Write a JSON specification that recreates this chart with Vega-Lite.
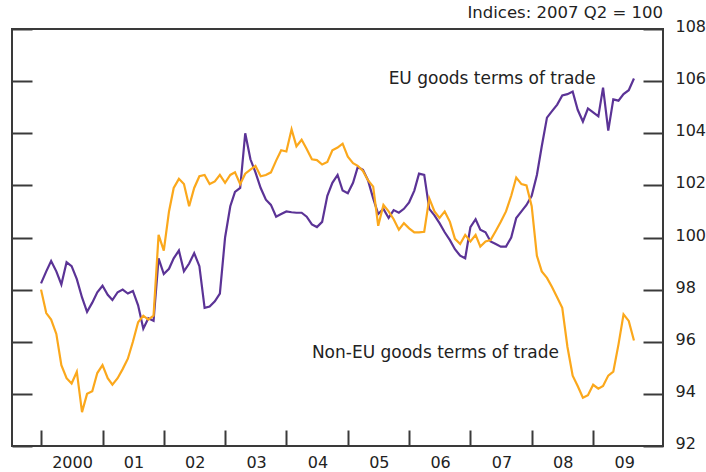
{
  "$schema": "https://vega.github.io/schema/vega-lite/v6.json",
  "autosize": {"type": "none"},
  "padding": {"left": 12, "top": 29, "right": 43, "bottom": 26},
  "width": 651,
  "height": 417,
  "background": "white",
  "config": {
    "view": {"stroke": "#3a3a3a", "strokeWidth": 2},
    "font": "DejaVu Sans",
    "axis": {"domain": false, "grid": false, "tickColor": "#3a3a3a", "tickWidth": 2, "labelColor": "#222222", "labelFont": "DejaVu Sans", "labelFontSize": 16, "title": null}
  },
  "title": {"text": "Indices: 2007 Q2 = 100", "anchor": "end", "frame": "group", "offset": -3, "fontSize": 16.5, "fontWeight": "normal", "font": "DejaVu Sans", "color": "#222222"},
  "datasets": {
    "series": [
      {"date": "2000-01-01", "EU": 98.24, "NonEU": 98.0},
      {"date": "2000-02-01", "EU": 98.7, "NonEU": 97.1},
      {"date": "2000-03-01", "EU": 99.1, "NonEU": 96.85},
      {"date": "2000-04-01", "EU": 98.7, "NonEU": 96.3},
      {"date": "2000-05-01", "EU": 98.2, "NonEU": 95.1},
      {"date": "2000-06-01", "EU": 99.05, "NonEU": 94.6},
      {"date": "2000-07-01", "EU": 98.9, "NonEU": 94.4},
      {"date": "2000-08-01", "EU": 98.4, "NonEU": 94.85},
      {"date": "2000-09-01", "EU": 97.7, "NonEU": 93.3},
      {"date": "2000-10-01", "EU": 97.15, "NonEU": 94.0},
      {"date": "2000-11-01", "EU": 97.5, "NonEU": 94.1},
      {"date": "2000-12-01", "EU": 97.9, "NonEU": 94.8},
      {"date": "2001-01-01", "EU": 98.15, "NonEU": 95.1},
      {"date": "2001-02-01", "EU": 97.8, "NonEU": 94.6},
      {"date": "2001-03-01", "EU": 97.6, "NonEU": 94.35},
      {"date": "2001-04-01", "EU": 97.9, "NonEU": 94.6},
      {"date": "2001-05-01", "EU": 98.0, "NonEU": 94.95},
      {"date": "2001-06-01", "EU": 97.85, "NonEU": 95.35},
      {"date": "2001-07-01", "EU": 97.95, "NonEU": 96.0},
      {"date": "2001-08-01", "EU": 97.4, "NonEU": 96.75},
      {"date": "2001-09-01", "EU": 96.5, "NonEU": 97.0},
      {"date": "2001-10-01", "EU": 96.9, "NonEU": 96.85},
      {"date": "2001-11-01", "EU": 96.8, "NonEU": 97.0},
      {"date": "2001-12-01", "EU": 99.2, "NonEU": 100.1},
      {"date": "2002-01-01", "EU": 98.6, "NonEU": 99.5},
      {"date": "2002-02-01", "EU": 98.8, "NonEU": 101.0},
      {"date": "2002-03-01", "EU": 99.2, "NonEU": 101.9},
      {"date": "2002-04-01", "EU": 99.5, "NonEU": 102.25},
      {"date": "2002-05-01", "EU": 98.7, "NonEU": 102.05},
      {"date": "2002-06-01", "EU": 99.0, "NonEU": 101.2},
      {"date": "2002-07-01", "EU": 99.4, "NonEU": 101.9},
      {"date": "2002-08-01", "EU": 98.9, "NonEU": 102.35},
      {"date": "2002-09-01", "EU": 97.3, "NonEU": 102.4},
      {"date": "2002-10-01", "EU": 97.35, "NonEU": 102.05},
      {"date": "2002-11-01", "EU": 97.55, "NonEU": 102.15},
      {"date": "2002-12-01", "EU": 97.85, "NonEU": 102.4},
      {"date": "2003-01-01", "EU": 100.0, "NonEU": 102.1},
      {"date": "2003-02-01", "EU": 101.2, "NonEU": 102.4},
      {"date": "2003-03-01", "EU": 101.75, "NonEU": 102.5},
      {"date": "2003-04-01", "EU": 101.9, "NonEU": 102.05},
      {"date": "2003-05-01", "EU": 104.0, "NonEU": 102.45},
      {"date": "2003-06-01", "EU": 103.0, "NonEU": 102.6},
      {"date": "2003-07-01", "EU": 102.5, "NonEU": 102.75},
      {"date": "2003-08-01", "EU": 101.9, "NonEU": 102.35},
      {"date": "2003-09-01", "EU": 101.45, "NonEU": 102.4},
      {"date": "2003-10-01", "EU": 101.25, "NonEU": 102.5},
      {"date": "2003-11-01", "EU": 100.8, "NonEU": 102.95},
      {"date": "2003-12-01", "EU": 100.9, "NonEU": 103.35},
      {"date": "2004-01-01", "EU": 101.0, "NonEU": 103.3},
      {"date": "2004-02-01", "EU": 100.97, "NonEU": 104.15},
      {"date": "2004-03-01", "EU": 100.95, "NonEU": 103.5},
      {"date": "2004-04-01", "EU": 100.95, "NonEU": 103.75},
      {"date": "2004-05-01", "EU": 100.8, "NonEU": 103.4},
      {"date": "2004-06-01", "EU": 100.5, "NonEU": 103.0},
      {"date": "2004-07-01", "EU": 100.4, "NonEU": 102.97},
      {"date": "2004-08-01", "EU": 100.6, "NonEU": 102.8},
      {"date": "2004-09-01", "EU": 101.6, "NonEU": 102.9},
      {"date": "2004-10-01", "EU": 102.1, "NonEU": 103.35},
      {"date": "2004-11-01", "EU": 102.4, "NonEU": 103.45},
      {"date": "2004-12-01", "EU": 101.8, "NonEU": 103.6},
      {"date": "2005-01-01", "EU": 101.7, "NonEU": 103.1},
      {"date": "2005-02-01", "EU": 102.1, "NonEU": 102.85},
      {"date": "2005-03-01", "EU": 102.7, "NonEU": 102.75},
      {"date": "2005-04-01", "EU": 102.6, "NonEU": 102.55},
      {"date": "2005-05-01", "EU": 102.2, "NonEU": 102.2},
      {"date": "2005-06-01", "EU": 101.5, "NonEU": 101.95},
      {"date": "2005-07-01", "EU": 100.9, "NonEU": 100.45},
      {"date": "2005-08-01", "EU": 101.1, "NonEU": 101.25},
      {"date": "2005-09-01", "EU": 100.75, "NonEU": 101.0},
      {"date": "2005-10-01", "EU": 101.05, "NonEU": 100.7},
      {"date": "2005-11-01", "EU": 100.95, "NonEU": 100.3},
      {"date": "2005-12-01", "EU": 101.1, "NonEU": 100.55},
      {"date": "2006-01-01", "EU": 101.35, "NonEU": 100.35},
      {"date": "2006-02-01", "EU": 101.8, "NonEU": 100.2},
      {"date": "2006-03-01", "EU": 102.45, "NonEU": 100.2},
      {"date": "2006-04-01", "EU": 102.4, "NonEU": 100.22},
      {"date": "2006-05-01", "EU": 101.1, "NonEU": 101.5},
      {"date": "2006-06-01", "EU": 100.85, "NonEU": 101.0},
      {"date": "2006-07-01", "EU": 100.55, "NonEU": 100.75},
      {"date": "2006-08-01", "EU": 100.2, "NonEU": 101.0},
      {"date": "2006-09-01", "EU": 99.9, "NonEU": 100.6},
      {"date": "2006-10-01", "EU": 99.55, "NonEU": 99.95},
      {"date": "2006-11-01", "EU": 99.3, "NonEU": 99.75},
      {"date": "2006-12-01", "EU": 99.2, "NonEU": 100.1},
      {"date": "2007-01-01", "EU": 100.4, "NonEU": 99.85},
      {"date": "2007-02-01", "EU": 100.7, "NonEU": 100.1},
      {"date": "2007-03-01", "EU": 100.3, "NonEU": 99.65},
      {"date": "2007-04-01", "EU": 100.2, "NonEU": 99.85},
      {"date": "2007-05-01", "EU": 99.85, "NonEU": 99.9},
      {"date": "2007-06-01", "EU": 99.75, "NonEU": 100.25},
      {"date": "2007-07-01", "EU": 99.65, "NonEU": 100.6},
      {"date": "2007-08-01", "EU": 99.65, "NonEU": 101.0},
      {"date": "2007-09-01", "EU": 100.0, "NonEU": 101.6},
      {"date": "2007-10-01", "EU": 100.75, "NonEU": 102.3},
      {"date": "2007-11-01", "EU": 101.0, "NonEU": 102.05},
      {"date": "2007-12-01", "EU": 101.25, "NonEU": 102.0},
      {"date": "2008-01-01", "EU": 101.6, "NonEU": 101.2},
      {"date": "2008-02-01", "EU": 102.4, "NonEU": 99.3},
      {"date": "2008-03-01", "EU": 103.5, "NonEU": 98.7},
      {"date": "2008-04-01", "EU": 104.6, "NonEU": 98.45},
      {"date": "2008-05-01", "EU": 104.85, "NonEU": 98.1},
      {"date": "2008-06-01", "EU": 105.1, "NonEU": 97.7},
      {"date": "2008-07-01", "EU": 105.45, "NonEU": 97.3},
      {"date": "2008-08-01", "EU": 105.5, "NonEU": 95.8},
      {"date": "2008-09-01", "EU": 105.6, "NonEU": 94.7},
      {"date": "2008-10-01", "EU": 104.9, "NonEU": 94.3},
      {"date": "2008-11-01", "EU": 104.45, "NonEU": 93.85},
      {"date": "2008-12-01", "EU": 104.95, "NonEU": 93.95},
      {"date": "2009-01-01", "EU": 104.8, "NonEU": 94.35},
      {"date": "2009-02-01", "EU": 104.65, "NonEU": 94.2},
      {"date": "2009-03-01", "EU": 105.75, "NonEU": 94.3},
      {"date": "2009-04-01", "EU": 104.1, "NonEU": 94.7},
      {"date": "2009-05-01", "EU": 105.3, "NonEU": 94.85},
      {"date": "2009-06-01", "EU": 105.25, "NonEU": 95.9},
      {"date": "2009-07-01", "EU": 105.5, "NonEU": 97.05},
      {"date": "2009-08-01", "EU": 105.65, "NonEU": 96.8},
      {"date": "2009-09-01", "EU": 106.1, "NonEU": 96.05}
    ],
    "labels": [
      {"date": "2005-09-01", "value": 106.1, "label": "EU goods terms of trade", "series": "EU"},
      {"date": "2004-06-01", "value": 95.57, "label": "Non-EU goods terms of trade", "series": "NonEU"}
    ]
  },
  "encoding": {
    "x": {
      "field": "date", "type": "temporal",
      "scale": {"domain": ["1999-07-12", "2010-02-21"]},
      "axis": {
        "orient": "bottom",
        "values": ["2000-01-01", "2001-01-01", "2002-01-01", "2003-01-01", "2004-01-01", "2005-01-01", "2006-01-01", "2007-01-01", "2008-01-01", "2009-01-01"],
        "labelExpr": "year(datum.value) == 2000 ? '2000' : timeFormat(datum.value, '%y')",
        "tickSize": -16,
        "labelPadding": 24,
        "labelOffset": 31,
        "labelFlush": false,
        "labelOverlap": false
      }
    }
  },
  "layer": [
    {
      "data": {"name": "series"},
      "mark": {"type": "line", "color": "#5b3396", "strokeWidth": 2.2},
      "encoding": {
        "y": {
          "field": "EU", "type": "quantitative",
          "scale": {"domain": [92, 108], "nice": false, "zero": false},
          "axis": {"orient": "right", "values": [92, 94, 96, 98, 100, 102, 104, 106, 108], "tickSize": -20, "labelPadding": 32, "labelOffset": -2.5, "labelFlush": false, "labelOverlap": false}
        }
      }
    },
    {
      "data": {"name": "series"},
      "mark": {"type": "line", "color": "#fba81c", "strokeWidth": 2.2},
      "encoding": {
        "y": {"field": "NonEU", "type": "quantitative", "axis": null}
      }
    },
    {
      "data": {"name": "series"},
      "mark": {"type": "line", "strokeWidth": 0},
      "encoding": {
        "y": {
          "field": "EU", "type": "quantitative",
          "axis": {"orient": "left", "values": [92, 94, 96, 98, 100, 102, 104, 106, 108], "tickSize": -20, "labels": false}
        }
      }
    },
    {
      "data": {"name": "labels"},
      "mark": {"type": "text", "align": "left", "baseline": "middle", "fontSize": 17, "font": "DejaVu Sans", "color": "#222222"},
      "encoding": {
        "y": {"field": "value", "type": "quantitative", "axis": null},
        "text": {"field": "label"}
      }
    }
  ],
  "resolve": {"axis": {"y": "independent"}}
}
